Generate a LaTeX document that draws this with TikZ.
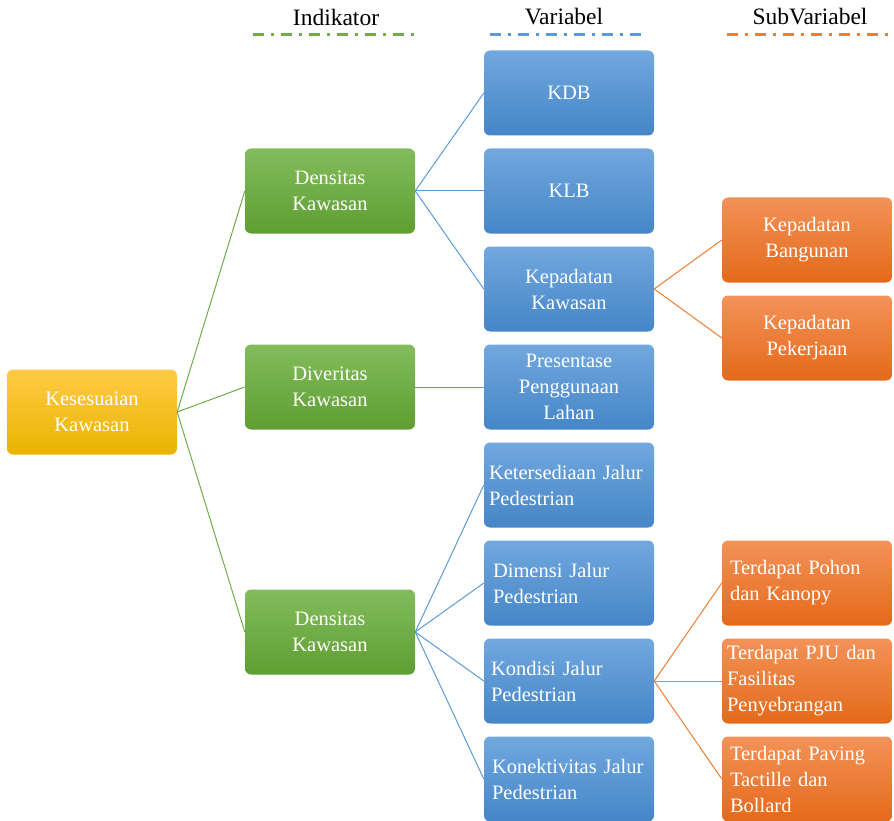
\documentclass[tikz,border=0pt]{standalone}
\usepackage{fontspec}
\setmainfont{Liberation Serif}
\usetikzlibrary{positioning}
\definecolor{gA}{HTML}{82BC5C}
\definecolor{gB}{HTML}{5F9E32}
\definecolor{bA}{HTML}{71A8DE}
\definecolor{bB}{HTML}{4585C7}
\definecolor{oA}{HTML}{F39258}
\definecolor{oB}{HTML}{E4691A}
\definecolor{yA}{HTML}{FFCB45}
\definecolor{yB}{HTML}{E9B400}
\definecolor{gLine}{HTML}{70AD47}
\definecolor{bLine}{HTML}{5B9BD5}
\definecolor{oLine}{HTML}{ED7D31}

\tikzset{
  box/.style={rounded corners=6pt, minimum width=170pt, minimum height=85pt,
    text width=160pt, inner xsep=5pt, inner ysep=2pt, align=center,
    text=white, font=\fontsize{20.5}{26}\selectfont},
  leftbox/.style={box, align=left},
  ybox/.style={box, top color=yA, bottom color=yB},
  gbox/.style={box, top color=gA, bottom color=gB},
  bbox/.style={box, top color=bA, bottom color=bB},
  obox/.style={box, top color=oA, bottom color=oB},
  head/.style={font=\fontsize{23.5}{28}\selectfont},
  headline/.style={line width=3pt, dash pattern=on 11pt off 7pt on 3pt off 7pt},
}

\begin{document}
\begin{tikzpicture}[x=1pt,y=-1pt]
\useasboundingbox (0,0) rectangle (894,821);
% column headings
\node[head] (hInd) at (336,17) {Indikator};
\node[head] (hVar) at (564,17) {Variabel};
\node[head] (hSub) at (810,17) {SubVariabel};
\coordinate (lInd) at (253,35); \coordinate (rInd) at (415,35);
\coordinate (lVar) at (490,35); \coordinate (rVar) at (642,35);
\coordinate (lSub) at (727,35); \coordinate (rSub) at (892,35);
\draw[headline, gLine] (lInd) -- (rInd);
\draw[headline, bLine] (lVar) -- (rVar);
\draw[headline, oLine] (lSub) -- (rSub);

% root
\node[ybox] (root) at (92,412) {Kesesuaian\\Kawasan};

% indikator
\node[gbox] (ind1) at (330,191) {Densitas\\Kawasan};
\node[gbox] (ind2) at (330,387) {Diveritas\\Kawasan};
\node[gbox] (ind3) at (330,632) {Densitas\\Kawasan};

% variabel
\node[bbox] (var1) at (569,93) {KDB};
\node[bbox] (var2) at (569,191) {KLB};
\node[bbox] (var3) at (569,289) {Kepadatan\\Kawasan};
\node[bbox] (var4) at (569,387) {Presentase\\Penggunaan\\Lahan};
\node[bbox, leftbox] (var5) at (569,485) {Ketersediaan Jalur\\Pedestrian};
\node[bbox, leftbox] (var6) at (569,583) {\hspace*{4pt}Dimensi Jalur\\\hspace*{4pt}Pedestrian};
\node[bbox, leftbox] (var7) at (569,681) {\hspace*{2pt}Kondisi Jalur\\\hspace*{2pt}Pedestrian};
\node[bbox, leftbox] (var8) at (569,779) {\hspace*{3pt}Konektivitas Jalur\\\hspace*{3pt}Pedestrian};

% subvariabel
\node[obox] (sub1) at (807,240) {Kepadatan\\Bangunan};
\node[obox] (sub2) at (807,338) {Kepadatan\\Pekerjaan};
\node[obox, leftbox] (sub3) at (807,583) {\hspace*{3pt}Terdapat Pohon\\\hspace*{3pt}dan Kanopy};
\node[obox, leftbox] (sub4) at (807,681) {Terdapat PJU dan\\Fasilitas\\Penyebrangan};
\node[obox, leftbox] (sub5) at (807,779) {\hspace*{3pt}Terdapat Paving\\\hspace*{3pt}Tactille dan\\\hspace*{3pt}Bollard};

% connectors
\foreach \i in {1,2,3}
  \draw[gLine, line width=1pt] (root.east) -- (ind\i.west);
\foreach \j in {1,2,3}
  \draw[bLine, line width=1pt] (ind1.east) -- (var\j.west);
\draw[bLine, line width=1pt] (ind2.east) -- (var4.west);
\foreach \j in {5,...,8}
  \draw[bLine, line width=1pt] (ind3.east) -- (var\j.west);
\foreach \s in {1,2}
  \draw[oLine, line width=1pt] (var3.east) -- (sub\s.west);
\foreach \s in {3,4,5}
  \draw[oLine, line width=1pt] (var7.east) -- (sub\s.west);
\end{tikzpicture}
\end{document}
